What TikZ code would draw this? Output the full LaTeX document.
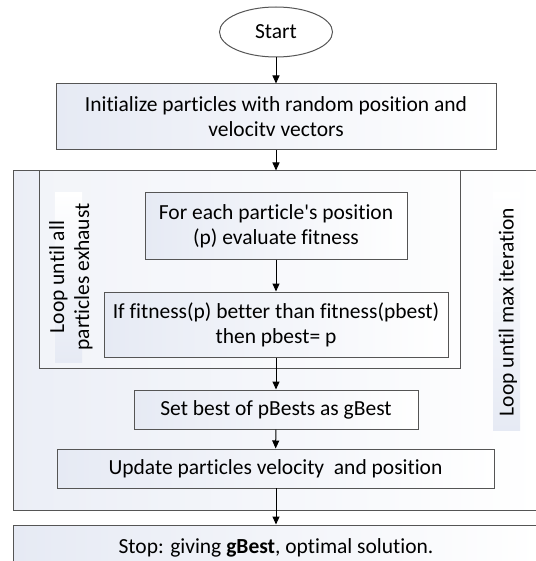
\documentclass[tikz,border=0pt]{standalone}
\usepackage{fontspec}
\setmainfont{Carlito}[Ligatures={NoCommon}]
\usetikzlibrary{shapes.geometric,arrows.meta}
\definecolor{edge}{HTML}{555555}
\definecolor{tint}{HTML}{E6EAF4}
\begin{document}
\begin{tikzpicture}[x=1pt,y=-1pt,
  txt/.style={font=\fontsize{21.5}{25}\selectfont},
  box/.style={draw=edge, line width=1pt, left color=tint, right color=white,
    inner sep=0pt, align=center, txt, rectangle},
  frame/.style={draw=edge, line width=1pt, inner sep=0pt, rectangle},
  lbl/.style={top color=white, bottom color=tint, inner sep=0pt, rectangle},
  arr/.style={-{Triangle[length=8pt,width=7pt]}, line width=1pt, black}
]
\useasboundingbox (0,0) rectangle (535,561);
\fill[white] (0,0) rectangle (535,561);

% outer loop and inner loop frames
\node[frame, left color=tint!80, right color=white, minimum width=526pt, minimum height=339pt] (outer) at (276,340.5) {};
\node[frame, fill=white, fill opacity=0.35, draw opacity=1, minimum width=421pt, minimum height=197pt] (inner) at (249.5,269.5) {};

% label backgrounds
\node[lbl, minimum width=27pt, minimum height=169pt] (lab1bg) at (68.5,277.5) {};
\node[lbl, minimum width=27pt, minimum height=237pt] (lab2bg) at (506.5,311.5) {};
\node[txt, rotate=90, align=center, inner sep=0pt] (lab1) at (71,277) {Loop until all\\particles exhaust};
\node[txt, rotate=90, inner sep=0pt] (lab2) at (508,312) {Loop until max iteration};

% process nodes
\node[draw=edge, line width=1pt, ellipse, fill=white, txt, minimum width=113pt, minimum height=50pt, inner sep=0pt] (start) at (276,32) {Start};
\node[box, minimum width=440pt, minimum height=66pt] (init) at (276,117) {Initialize particles with random position and\\velocitv vectors};
\node[box, minimum width=262pt, minimum height=66pt] (eval) at (276,226) {For each particle\textquotesingle s position\\(p) evaluate fitness};
\node[box, minimum width=344pt, minimum height=65pt] (cmp) at (276,324.5) {If fitness(p) better than fitness(pbest)\\then pbest= p};
\node[box, minimum width=284pt, minimum height=39pt] (gbest) at (276,409.5) {Set best of pBests as gBest};
\node[box, minimum width=437pt, minimum height=39pt] (upd) at (275.5,468.5) {Update particles velocity\ \ and position};
\node[box, minimum width=526pt, minimum height=45pt] (stop) at (276,547.5) {Stop: giving \textbf{gBest}, optimal solution.};

% connectors
\draw[arr] (start) -- (init);
\draw[arr] (init.south) -- (init.south |- outer.north);
\draw[arr] (eval) -- (cmp);
\draw[arr] (cmp) -- (gbest);
\draw[arr] (gbest) -- (upd);
\draw[arr] (upd.south) -- (upd.south -| stop.north) -- (stop.north);
\end{tikzpicture}
\end{document}
